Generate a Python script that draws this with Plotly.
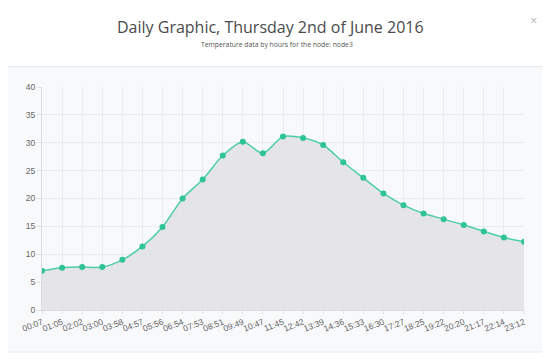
import plotly.graph_objects as go

times = ["00:07", "01:05", "02:02", "03:00", "03:58", "04:57", "05:56", "06:54",
         "07:53", "08:51", "09:49", "10:47", "11:45", "12:42", "13:39", "14:36",
         "15:33", "16:30", "17:27", "18:25", "19:22", "20:20", "21:17", "22:14", "23:12"]
temps = [7.05, 7.6, 7.7, 7.7, 9.0, 11.4, 14.9, 20.0,
         23.4, 27.7, 30.2, 28.1, 31.1, 30.85, 29.6, 26.5,
         23.7, 20.9, 18.8, 17.3, 16.3, 15.25, 14.1, 13.0, 12.25]
y_ticks = [0, 5, 10, 15, 20, 25, 30, 35, 40]

title_text = "Daily Graphic, Thursday 2nd of June 2016"
subtitle_text = "Temperature data by hours for the node: node3"

# the page body has an 8px default margin; work in page pixels and shift
OFF = 8
W, H = 550, 359
plot_left, plot_right, plot_top, plot_bottom = 42, 524, 87, 310  # page px
ml = plot_left - OFF
mt = plot_top - OFF
mr = W - (plot_right - OFF)
mb = H - (plot_bottom - OFF)
pw, ph = plot_right - plot_left, plot_bottom - plot_top

def px_to_paper_x(px):
    return (px - plot_left) / pw

def px_to_paper_y(py):
    return (plot_bottom - py) / ph

fig = go.Figure()
fig.add_trace(go.Scatter(
    x=times, y=temps, mode="lines+markers",
    line=dict(color="#4ccfa3", width=1.5, shape="spline", smoothing=0.8),
    marker=dict(color="#2fc395", size=6),
    fill="tozeroy", fillcolor="rgba(226,226,228,0.85)",
    hoverinfo="x+y", showlegend=False,
))

shapes = [
    dict(type="rect", xref="paper", yref="paper",
         x0=px_to_paper_x(-20), x1=px_to_paper_x(W + 20),
         y0=px_to_paper_y(352), y1=px_to_paper_y(66.5),
         fillcolor="#f8f9fb", line=dict(color="#e6e7ea", width=1), layer="below"),
]

fig.update_layout(
    width=W, height=H,
    margin=dict(l=ml, r=mr, t=mt, b=mb, autoexpand=False),
    paper_bgcolor="white", plot_bgcolor="rgba(0,0,0,0)",
    shapes=shapes,
    font=dict(family="Liberation Sans, Arial, sans-serif", color="#666"),
    annotations=[
        dict(text=title_text, xref="paper", yref="paper",
             x=px_to_paper_x(270.5), y=px_to_paper_y(27), xanchor="center", yanchor="middle",
             showarrow=False, font=dict(family="Open Sans", size=16, color="#4a4a4a")),
        dict(text=subtitle_text, xref="paper", yref="paper",
             x=px_to_paper_x(276.5), y=px_to_paper_y(45), xanchor="center", yanchor="middle",
             showarrow=False, font=dict(family="Open Sans", size=6.8, color="#555")),
        dict(text="×", xref="paper", yref="paper",
             x=px_to_paper_x(533), y=px_to_paper_y(20), xanchor="center", yanchor="middle",
             showarrow=False, font=dict(family="Open Sans", size=13, color="#bbb")),
    ],
    xaxis=dict(
        type="category", range=[0, len(times) - 1], automargin=False,
        showgrid=True, gridcolor="#e9ebee", gridwidth=1,
        tickangle=-22, tickfont=dict(size=8.5, color="#666"),
        ticks="outside", ticklen=3, tickcolor="#e0e0e0",
        showline=True, linecolor="#dcdcdc", zeroline=False,
    ),
    yaxis=dict(
        range=[0, 40], tickvals=y_ticks, automargin=False,
        showgrid=True, gridcolor="#e9ebee", gridwidth=1,
        tickfont=dict(size=8.5, color="#666"),
        ticks="outside", ticklen=4, tickcolor="#e0e0e0",
        showline=True, linecolor="#dcdcdc", zeroline=False,
    ),
)

fig.write_html("out.html")
